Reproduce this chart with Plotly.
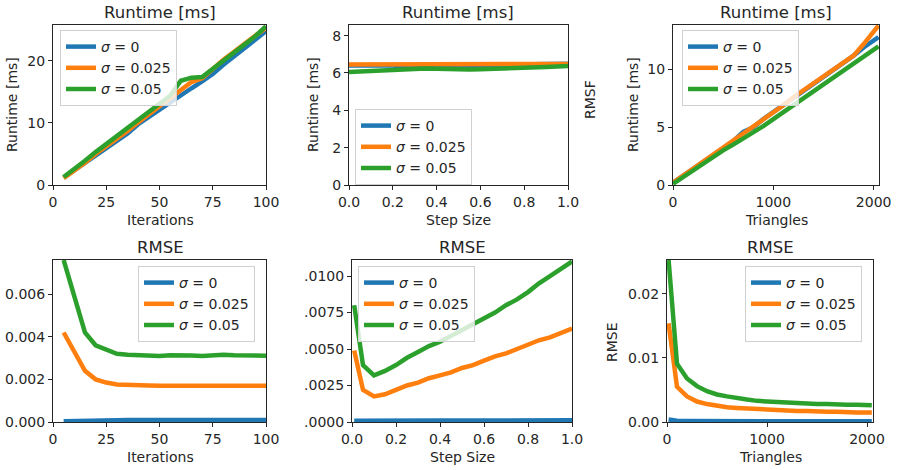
import plotly.graph_objects as go

W, H = 897, 470
C_BLUE, C_ORANGE, C_GREEN = "#1f77b4", "#ff7f0e", "#2ca02c"
names = ["<i>σ</i> = 0", "<i>σ</i> = 0.025", "<i>σ</i> = 0.05"]
colors = [C_BLUE, C_ORANGE, C_GREEN]

# ---------------- data ----------------
iters = [5, 10, 15, 20, 25, 30, 35, 40, 45, 50, 55, 60, 65, 70, 75, 80, 85, 90, 95, 100]
rt_iter_s0 = [1.2, 2.4, 3.7, 4.9, 6.1, 7.2, 8.3, 9.8, 11.0, 12.2, 13.3, 14.5, 15.6, 16.7, 17.9, 19.4, 20.7, 22.0, 23.3, 24.8]
rt_iter_s025 = [1.1, 2.3, 3.6, 5.0, 6.2, 7.4, 8.7, 10.1, 11.4, 12.7, 13.9, 15.3, 16.6, 17.2, 18.8, 20.2, 21.5, 22.9, 24.1, 25.3]
rt_iter_s05 = [1.3, 2.5, 3.9, 5.3, 6.6, 7.9, 9.2, 10.4, 11.8, 13.2, 14.4, 16.8, 17.3, 17.4, 18.7, 20.0, 21.3, 22.6, 24.0, 25.6]

steps_rt = [0.0, 0.05, 0.1, 0.15, 0.2, 0.25, 0.3, 0.35, 0.4, 0.45, 0.5, 0.55, 0.6, 0.65, 0.7, 0.75, 0.8, 0.85, 0.9, 0.95, 1.0]
rt_step_s0 = [6.40, 6.41, 6.42, 6.42, 6.40, 6.33, 6.30, 6.32, 6.35, 6.36, 6.36, 6.35, 6.35, 6.37, 6.40, 6.45, 6.45, 6.44, 6.45, 6.47, 6.50]
rt_step_s025 = [6.46, 6.46, 6.46, 6.46, 6.46, 6.45, 6.44, 6.44, 6.47, 6.50, 6.48, 6.47, 6.47, 6.46, 6.47, 6.48, 6.48, 6.47, 6.47, 6.48, 6.48]
rt_step_s05 = [6.05, 6.08, 6.11, 6.12, 6.12, 6.15, 6.20, 6.24, 6.22, 6.20, 6.19, 6.19, 6.20, 6.21, 6.22, 6.23, 6.24, 6.28, 6.32, 6.35, 6.38]

tris_rt = [0, 100, 200, 300, 400, 500, 600, 700, 800, 900, 1000, 1100, 1200, 1300, 1400, 1500, 1600, 1700, 1800, 1900, 2000, 2048]
rt_tri_s0 = [0.2, 0.8, 1.4, 2.0, 2.6, 3.2, 3.8, 4.6, 5.0, 5.7, 6.3, 7.0, 7.6, 8.2, 8.8, 9.4, 10.0, 10.6, 11.2, 11.9, 12.5, 12.8]
rt_tri_s025 = [0.2, 0.8, 1.4, 2.0, 2.6, 3.2, 3.8, 4.4, 5.0, 5.7, 6.3, 6.9, 7.6, 8.2, 8.8, 9.5, 10.1, 10.6, 11.2, 12.2, 13.3, 13.8]
rt_tri_s05 = [0.1, 0.7, 1.3, 1.8, 2.4, 3.0, 3.5, 4.0, 4.6, 5.1, 5.7, 6.3, 6.9, 7.5, 8.0, 8.6, 9.2, 9.9, 10.5, 11.0, 11.7, 12.0]

rmse_iter_s0 = [0.00003, 0.00005, 0.00006, 0.00007, 0.00008, 0.00008, 0.00009, 0.00009, 0.00009, 0.00009, 0.00009, 0.00009, 0.00009, 0.00009, 0.00009, 0.00009, 0.00009, 0.00009, 0.00009, 0.00009]
rmse_iter_s025 = [0.0042, 0.0033, 0.0024, 0.0020, 0.00185, 0.00176, 0.00173, 0.00172, 0.00171, 0.0017, 0.0017, 0.0017, 0.0017, 0.0017, 0.00171, 0.0017, 0.0017, 0.0017, 0.00169, 0.0017]
rmse_iter_s05 = [0.0076, 0.0059, 0.0042, 0.0036, 0.0034, 0.0032, 0.00316, 0.00313, 0.00313, 0.0031, 0.00313, 0.0031, 0.00312, 0.0031, 0.00313, 0.00315, 0.00313, 0.00312, 0.0031, 0.00311]

steps_rmse = [0.01, 0.05, 0.1, 0.15, 0.2, 0.25, 0.3, 0.35, 0.4, 0.45, 0.5, 0.55, 0.6, 0.65, 0.7, 0.75, 0.8, 0.85, 0.9, 0.95, 1.0]
rmse_step_s0 = [0.00008, 0.00009, 0.00009, 0.0001, 0.0001, 0.0001, 0.0001, 0.0001, 0.0001, 0.0001, 0.0001, 0.0001, 0.00011, 0.00011, 0.00011, 0.00011, 0.00011, 0.00012, 0.00012, 0.00012, 0.00012]
rmse_step_s025 = [0.0049, 0.0022, 0.00175, 0.0019, 0.0022, 0.0025, 0.0027, 0.0030, 0.0032, 0.0034, 0.0037, 0.0039, 0.0042, 0.0045, 0.0047, 0.0050, 0.0053, 0.0056, 0.0058, 0.0061, 0.0064]
rmse_step_s05 = [0.0080, 0.0039, 0.0032, 0.0035, 0.0039, 0.0044, 0.0048, 0.0052, 0.0055, 0.0059, 0.0063, 0.0067, 0.0071, 0.0075, 0.0080, 0.0084, 0.0089, 0.0095, 0.0100, 0.0105, 0.0110]

tris_rmse = [16, 100, 200, 300, 400, 500, 600, 700, 800, 900, 1000, 1100, 1200, 1300, 1400, 1500, 1600, 1700, 1800, 1900, 2000, 2048]
rmse_tri_s0 = [0.0004, 0.0002, 0.00017, 0.00015, 0.00014, 0.00013, 0.00012, 0.00012, 0.00011, 0.00011, 0.0001, 0.0001, 0.0001, 0.0001, 0.0001, 0.0001, 0.0001, 0.0001, 0.0001, 0.0001, 0.0001, 0.0001]
rmse_tri_s025 = [0.0154, 0.0055, 0.0040, 0.0032, 0.0028, 0.0025, 0.0023, 0.0022, 0.0021, 0.0020, 0.0019, 0.0018, 0.0018, 0.0017, 0.0017, 0.0016, 0.0016, 0.0016, 0.0015, 0.0015, 0.0015, 0.0015]
rmse_tri_s05 = [0.0253, 0.0091, 0.0068, 0.0056, 0.0048, 0.0043, 0.0040, 0.0037, 0.0035, 0.0033, 0.0032, 0.0031, 0.0030, 0.0029, 0.0029, 0.0028, 0.0028, 0.0027, 0.0027, 0.0027, 0.0026, 0.0026]

step_tick_text = [".0000", ".0025", ".0050", ".0075", ".0100"]
step_tick_vals = [0.0, 0.0025, 0.005, 0.0075, 0.01]

# ---------------- layout helpers ----------------
def px_x(x):
    return x / W

def px_y(y):
    return 1 - y / H

FONT = "DejaVu Sans"
TXT = "#262626"

panels = [
    dict(x=iters, ys=[rt_iter_s0, rt_iter_s025, rt_iter_s05], xb=(53, 266), yb=(25, 185),
         xr=[0, 100], yr=[0, 25.8], xd=25, yd=10, xfmt=None, yfmt=None,
         xl=("Iterations", 160, 220), yl=("Runtime [ms]", 12, 105), title=("Runtime [ms]", 160, 12), leg=(60, 30)),
    dict(x=steps_rt, ys=[rt_step_s0, rt_step_s025, rt_step_s05], xb=(349, 568), yb=(25, 185),
         xr=[0, 1], yr=[0, 8.57], xd=0.2, yd=2, xfmt=".1f", yfmt=None,
         xl=("Step Size", 458, 220), yl=("Runtime [ms]", 313, 105), title=("Runtime [ms]", 458, 12), leg=(355, 109)),
    dict(x=tris_rt, ys=[rt_tri_s0, rt_tri_s025, rt_tri_s05], xb=(673, 879), yb=(25, 185),
         xr=[0, 2053], yr=[0, 13.85], xd=1000, yd=5, xfmt=None, yfmt=None,
         xl=("Triangles", 776, 220), yl=("Runtime [ms]", 633, 105), title=("Runtime [ms]", 776, 12), leg=(682, 30)),
    dict(x=iters, ys=[rmse_iter_s0, rmse_iter_s025, rmse_iter_s05], xb=(53, 266), yb=(260, 422),
         xr=[0, 100], yr=[0, 0.0076], xd=25, yd=0.002, xfmt=None, yfmt=".3f",
         xl=("Iterations", 160, 457), yl=None, title=("RMSE", 160, 247), leg=(138, 266)),
    dict(x=steps_rmse, ys=[rmse_step_s0, rmse_step_s025, rmse_step_s05], xb=(352, 572), yb=(260, 422),
         xr=[0, 1], yr=[0, 0.0111], xd=0.2, yd=None, xfmt=".1f", yfmt=None,
         xl=("Step Size", 462, 457), yl=None, title=("RMSE", 462, 247), leg=(358, 266)),
    dict(x=tris_rmse, ys=[rmse_tri_s0, rmse_tri_s025, rmse_tri_s05], xb=(667, 873), yb=(260, 422),
         xr=[0, 2060], yr=[0, 0.0253], xd=1000, yd=0.01, xfmt=None, yfmt=".2f",
         xl=("Triangles", 770, 457), yl=("RMSE", 612, 342), title=("RMSE", 770, 247), leg=(745, 266)),
]

fig = go.Figure()
annotations = []
layout = {}

for i, p in enumerate(panels, start=1):
    sfx = "" if i == 1 else str(i)
    leg = "legend" if i == 1 else f"legend{i}"
    for k in range(3):
        fig.add_trace(go.Scatter(
            x=p["x"], y=p["ys"][k], mode="lines", name=names[k],
            line=dict(color=colors[k], width=4.5),
            xaxis="x" + sfx, yaxis="y" + sfx, legend=leg, showlegend=True,
        ))
    axcommon = dict(showgrid=False, zeroline=False, showline=True, linecolor="#262626", linewidth=1,
                    mirror=True, ticks="outside", ticklen=4, tickwidth=1, tickcolor="#262626",
                    automargin=False,
                    tickfont=dict(family=FONT, size=14, color=TXT))
    xa = dict(axcommon, domain=[px_x(p["xb"][0]), px_x(p["xb"][1])], range=p["xr"],
              anchor="y" + sfx, dtick=p["xd"], tick0=0)
    if p["xfmt"]:
        xa["tickformat"] = p["xfmt"]
    ya = dict(axcommon, domain=[px_y(p["yb"][1]), px_y(p["yb"][0])], range=p["yr"],
              anchor="x" + sfx)
    if p["yd"] is not None:
        ya["dtick"] = p["yd"]
        ya["tick0"] = 0
    else:
        ya["tickmode"] = "array"
        ya["tickvals"] = step_tick_vals
        ya["ticktext"] = step_tick_text
    if p["yfmt"]:
        ya["tickformat"] = p["yfmt"]
    layout["xaxis" + sfx] = xa
    layout["yaxis" + sfx] = ya
    layout[leg] = dict(x=px_x(p["leg"][0]), y=px_y(p["leg"][1]), xanchor="left", yanchor="top",
                       xref="paper", yref="paper",
                       bgcolor="rgba(255,255,255,0.8)", bordercolor="#d0d0d0", borderwidth=1,
                       font=dict(family=FONT, size=14, color=TXT), tracegroupgap=0)
    t, tx, ty = p["title"]
    annotations.append(dict(text=t, x=px_x(tx), y=px_y(ty), xref="paper", yref="paper",
                            showarrow=False, xanchor="center", yanchor="middle",
                            font=dict(family=FONT, size=16.5, color=TXT)))
    t, tx, ty = p["xl"]
    annotations.append(dict(text=t, x=px_x(tx), y=px_y(ty), xref="paper", yref="paper",
                            showarrow=False, xanchor="center", yanchor="middle",
                            font=dict(family=FONT, size=14, color=TXT)))
    if p["yl"]:
        t, tx, ty = p["yl"]
        annotations.append(dict(text=t, x=px_x(tx), y=px_y(ty), xref="paper", yref="paper",
                                showarrow=False, xanchor="center", yanchor="middle", textangle=-90,
                                font=dict(family=FONT, size=14, color=TXT)))

# stray clipped label visible in the reference
annotations.append(dict(text="RMSF", x=px_x(590), y=px_y(100), xref="paper", yref="paper",
                        showarrow=False, xanchor="center", yanchor="middle", textangle=-90,
                        font=dict(family=FONT, size=14, color=TXT)))

fig.update_layout(
    width=W, height=H, margin=dict(l=0, r=0, t=0, b=0),
    paper_bgcolor="white", plot_bgcolor="white",
    annotations=annotations, **layout,
)
fig.write_html("out.html", config={"displayModeBar": False},
               post_script="document.body.style.margin='0';document.body.style.overflow='hidden';")
